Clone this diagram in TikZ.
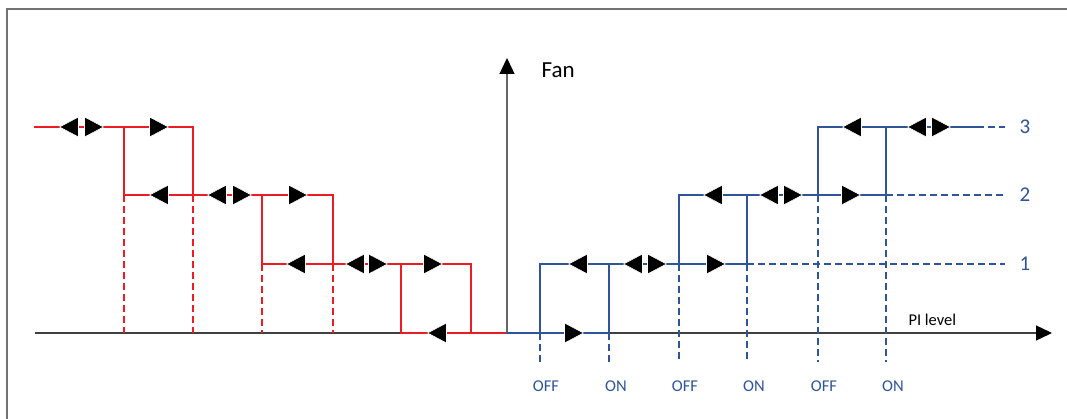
\documentclass[tikz,border=0pt]{standalone}
\usepackage{fontspec}
\setmainfont{Carlito}
\usetikzlibrary{arrows.meta}
\definecolor{fanred}{RGB}{237,28,36}
\definecolor{fanblue}{RGB}{47,85,151}

\begin{document}
\begin{tikzpicture}[x=1pt,y=-1pt,
        redline/.style={fanred, line width=2.5pt, line cap=rect},
        blueline/.style={fanblue, line width=2.5pt, line cap=rect},
        reddash/.style={fanred, line width=1.4pt, dash pattern=on 7pt off 4pt},
        bluedash/.style={fanblue, line width=1.4pt, dash pattern=on 7pt off 4pt},
        axis/.style={black!75, line width=1.3pt, -{Triangle[length=16pt,width=15pt,color=black]}},
        pics/rtri/.style={code={\fill[black, draw=white, line width=0.6pt] (-9.5,-10) -- (9.5,0) -- (-9.5,10) -- cycle;}},
        pics/ltri/.style={code={\fill[black, draw=white, line width=0.6pt] (9.5,-10) -- (-9.5,0) -- (9.5,10) -- cycle;}},
        level/.style={fanblue, font=\fontsize{21}{25}\selectfont},
        switch/.style={fanblue, font=\fontsize{16.5}{20}\selectfont}]
        \useasboundingbox (0,0) rectangle (1067,419);
        \draw[black!55, line width=1.5pt] (7,419) -- (7,9) -- (1067,9);
        \coordinate (o) at (507,333);
        \coordinate (xstart) at (35,333);
        \coordinate (xend) at (1052,333);
        \coordinate (yend) at (507,58);
        \draw[axis] (xstart) -- (xend);
        \draw[axis, black!60] (o) -- (yend);
        \node[anchor=west, font=\fontsize{23}{27}\selectfont] (fan) at (538,70) {Fan};
        \node[anchor=west, font=\fontsize{16.5}{20}\selectfont] (pi) at (905,320) {PI level};
        \foreach \x in {124,193}
            \draw[reddash] (\x,195) -- (\x,333);
        \foreach \x in {262,333}
            \draw[reddash] (\x,264) -- (\x,333);
        \foreach \x/\y in {540/333,609/333,679/264,747/264,818/195,886/195}
            \draw[bluedash] (\x,\y) -- (\x,362);
        \draw[bluedash] (977,127) -- (1005,127);
        \draw[bluedash] (886,195) -- (1005,195);
        \draw[bluedash] (747,264) -- (1005,264);
        \draw[redline] (35,127) -- (193,127) -- (193,195);
        \draw[redline] (124,127) -- (124,195) -- (333,195) -- (333,264);
        \draw[redline] (262,195) -- (262,264) -- (471,264) -- (471,333);
        \draw[redline] (401,264) -- (401,333) -- (o);
        \draw[blueline] (o) -- (609,333) -- (609,264);
        \draw[blueline] (540,333) -- (540,264) -- (747,264) -- (747,195);
        \draw[blueline] (679,264) -- (679,195) -- (886,195) -- (886,127);
        \draw[blueline] (818,195) -- (818,127) -- (977,127);
        \foreach \x/\y in {69/127,159/195,217/195,296/264,355/264,437/333,
                           578/264,633/264,713/195,769/195,852/127,917/127}
            \pic at (\x,\y) {ltri};
        \foreach \x/\y in {94/127,159/127,242/195,298/195,378/264,433/264,
                           574/333,657/264,716/264,793/195,851/195,941/127}
            \pic at (\x,\y) {rtri};
        \node[level] (l3) at (1025,127) {3};
        \node[level] (l2) at (1025,195) {2};
        \node[level] (l1) at (1025,264) {1};
        \foreach \x/\t [count=\i] in {546/OFF,616/ON,685/OFF,754/ON,824/OFF,893/ON}
            \node[switch] (sw\i) at (\x,386) {\t};
    \end{tikzpicture}
\end{document}
